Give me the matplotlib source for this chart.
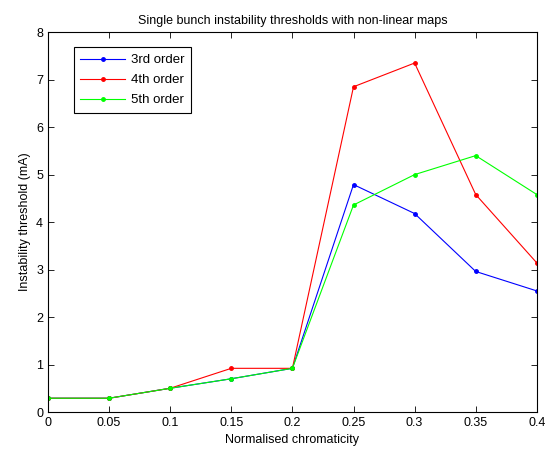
import numpy as np
import matplotlib.pyplot as plt

chrom = [0, 0.05, 0.1, 0.15, 0.2, 0.25, 0.3, 0.35, 0.4]
thr_3rd = [0.29, 0.29, 0.5, 0.70, 0.92, 4.79, 4.18, 2.96, 2.55]
thr_4th = [0.29, 0.29, 0.5, 0.92, 0.92, 6.85, 7.35, 4.58, 3.14]
thr_5th = [0.29, 0.29, 0.5, 0.70, 0.92, 4.36, 5.0, 5.40, 4.58]
xticks = [0, 0.05, 0.1, 0.15, 0.2, 0.25, 0.3, 0.35, 0.4]
xticklabels = ["0", "0.05", "0.1", "0.15", "0.2", "0.25", "0.3", "0.35", "0.4"]

plt.rcParams['font.family'] = ['Liberation Sans', 'DejaVu Sans']
plt.rcParams['font.size'] = 9

fig = plt.figure(figsize=(5.45, 4.53), dpi=100)
ax = fig.add_axes([0.088, 0.0905, 0.897, 0.8385])

ax.plot(chrom, thr_3rd, color='#0000ff', marker='.', markersize=5, linewidth=0.8, label="3rd order")
ax.plot(chrom, thr_4th, color='#ff0000', marker='.', markersize=5, linewidth=0.8, label="4th order")
ax.plot(chrom, thr_5th, color='#00ff00', marker='.', markersize=5, linewidth=0.8, label="5th order")

ax.set_xlim(0, 0.4)
ax.set_ylim(0, 8)
ax.set_xticks(xticks)
ax.set_xticklabels(xticklabels)
ax.set_yticks(range(9))
ax.tick_params(direction='in', top=True, right=True, length=4, width=0.6)
for s in ax.spines.values():
    s.set_linewidth(0.8)

ax.set_xlabel("Normalised chromaticity")
ax.set_ylabel("Instability threshold (mA)")
ax.set_title("Single bunch instability thresholds with non-linear maps", fontsize=9)

# legend box sits a bit in from the top-left corner
leg = ax.legend(loc='upper left', bbox_to_anchor=(0.053, 0.96), borderaxespad=0,
                fancybox=False, framealpha=1, edgecolor='black', borderpad=0.5,
                labelspacing=0.6, handlelength=3.4, handletextpad=0.4, fontsize=9.5)
leg.get_frame().set_linewidth(0.8)

plt.savefig("out.png")
